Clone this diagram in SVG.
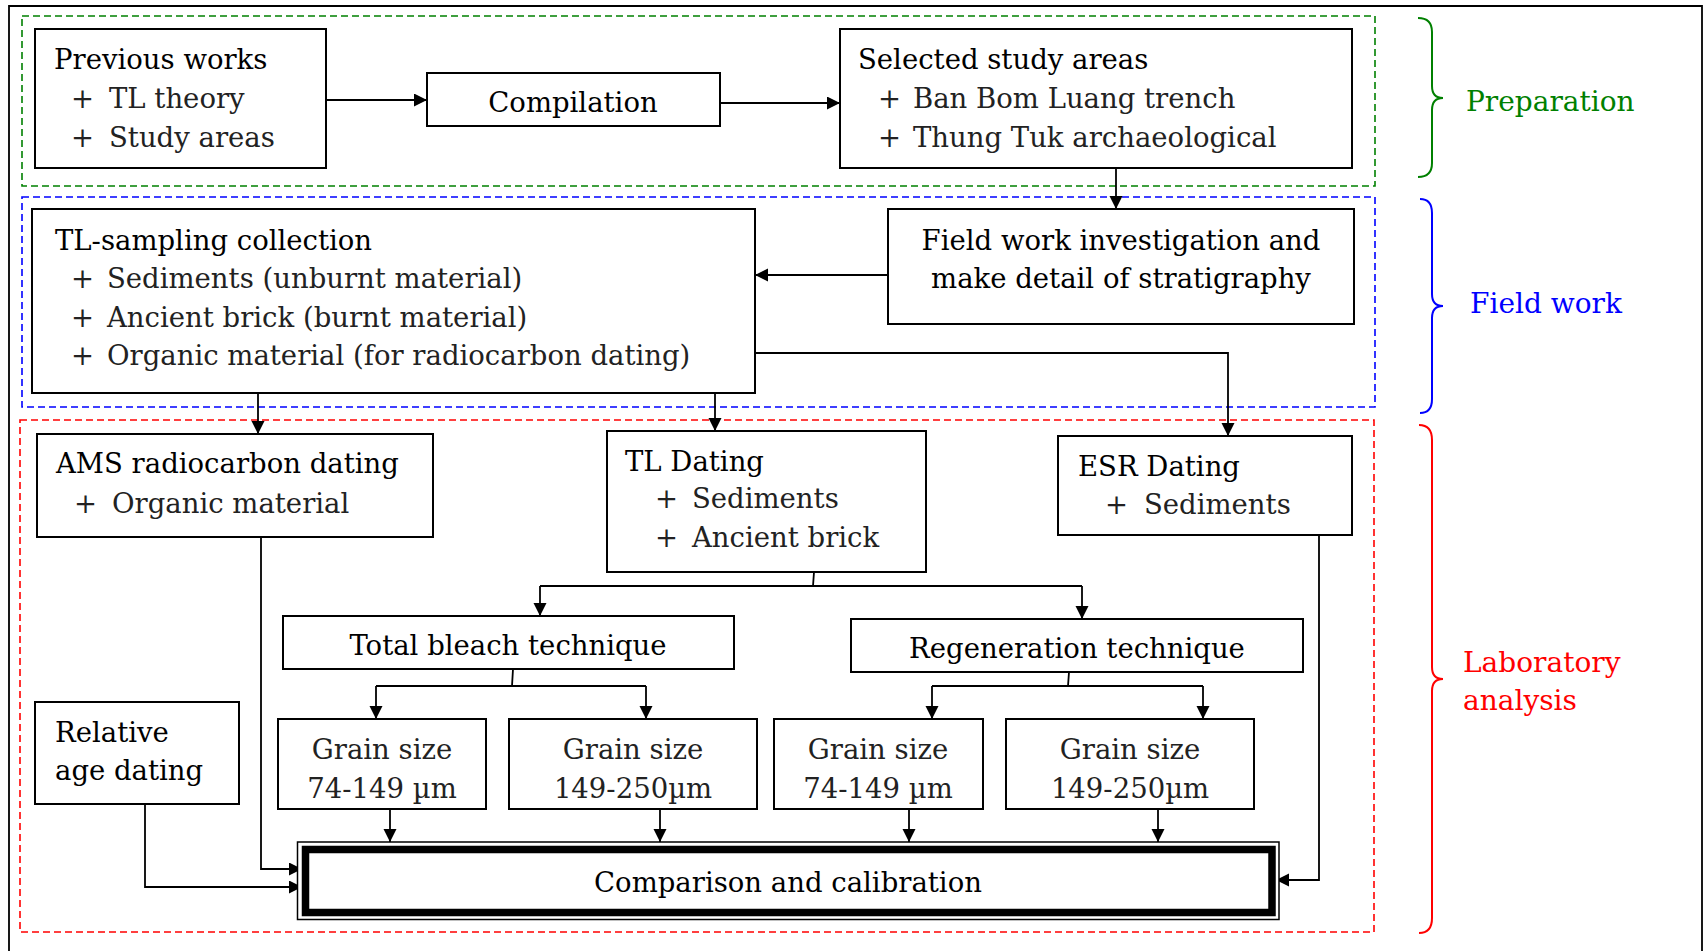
<svg xmlns="http://www.w3.org/2000/svg" width="1703" height="951" viewBox="0 0 1703 951">
<defs>
<style>
.t{font-family:"DejaVu Serif","Liberation Serif",serif;font-size:27.5px;fill:#000}
.s{fill:#222}
.c{text-anchor:middle}
.box{fill:#fff;stroke:#000;stroke-width:2}
.cn{fill:none;stroke:#000;stroke-width:1.8}
.dash{fill:none;stroke-width:1.6;stroke-dasharray:7 4}
.br{fill:none;stroke-width:2}
.lab{font-family:"DejaVu Serif","Liberation Serif",serif;font-size:28px}
</style>
<marker id="ah" markerUnits="userSpaceOnUse" markerWidth="14" markerHeight="14" refX="13" refY="6.5" orient="auto">
<path d="M0,0 L13,6.5 L0,13 z" fill="#000"/>
</marker>
</defs>
<rect width="1703" height="951" fill="#fff"/>
<g id="frame">
<path d="M9,951 V6 H1702 V951" fill="none" stroke="#000" stroke-width="1.8"/>
</g>
<g id="regions">
<rect class="dash" x="22" y="16" width="1353" height="170" stroke="#008000"/>
<rect class="dash" x="22" y="197" width="1353" height="210" stroke="#0000ff"/>
<rect class="dash" x="20" y="420" width="1354" height="512" stroke="#ff0000"/>
</g>
<g id="connectors">
<path class="cn" d="M326,100 H427" marker-end="url(#ah)"/>
<path class="cn" d="M720,103 H840" marker-end="url(#ah)"/>
<path class="cn" d="M1116,168 V209" marker-end="url(#ah)"/>
<path class="cn" d="M888,275 H755" marker-end="url(#ah)"/>
<path class="cn" d="M258,393 V434" marker-end="url(#ah)"/>
<path class="cn" d="M715,393 V431" marker-end="url(#ah)"/>
<path class="cn" d="M755,353 H1228 V436" marker-end="url(#ah)"/>
<path class="cn" d="M814,572 L813,586 M540,586 H1082"/>
<path class="cn" d="M540,586 V616" marker-end="url(#ah)"/>
<path class="cn" d="M1082,586 V619" marker-end="url(#ah)"/>
<path class="cn" d="M513,669 L512,686 M376,686 H646"/>
<path class="cn" d="M376,686 V719" marker-end="url(#ah)"/>
<path class="cn" d="M646,686 V719" marker-end="url(#ah)"/>
<path class="cn" d="M1069,672 L1068,686 M932,686 H1203"/>
<path class="cn" d="M932,686 V719" marker-end="url(#ah)"/>
<path class="cn" d="M1203,686 V719" marker-end="url(#ah)"/>
<path class="cn" d="M390,809 V842" marker-end="url(#ah)"/>
<path class="cn" d="M660,809 V842" marker-end="url(#ah)"/>
<path class="cn" d="M909,809 V842" marker-end="url(#ah)"/>
<path class="cn" d="M1158,809 V842" marker-end="url(#ah)"/>
<path class="cn" d="M261,537 V869 H302" marker-end="url(#ah)"/>
<path class="cn" d="M145,804 V887 H302" marker-end="url(#ah)"/>
<path class="cn" d="M1319,535 V880 H1276" marker-end="url(#ah)"/>
</g>
<g id="previous-works">
<rect class="box" x="35" y="29" width="291" height="139"/>
<text class="t" x="54" y="69">Previous works</text>
<text class="t s" y="108"><tspan x="71">+</tspan><tspan x="109">TL theory</tspan></text>
<text class="t s" y="147"><tspan x="71">+</tspan><tspan x="109">Study areas</tspan></text>
</g>
<g id="compilation">
<rect class="box" x="427" y="73" width="293" height="53"/>
<text class="t c" x="573" y="112">Compilation</text>
</g>
<g id="selected-study-areas">
<rect class="box" x="840" y="29" width="512" height="139"/>
<text class="t" x="858" y="69">Selected study areas</text>
<text class="t s" y="108"><tspan x="878">+</tspan><tspan x="913">Ban Bom Luang trench</tspan></text>
<text class="t s" y="147"><tspan x="878">+</tspan><tspan x="913">Thung Tuk archaeological</tspan></text>
</g>
<g id="field-work">
<rect class="box" x="888" y="209" width="466" height="115"/>
<text class="t c" x="1121" y="250">Field work investigation and</text>
<text class="t c" x="1121" y="288">make detail of stratigraphy</text>
</g>
<g id="tl-sampling">
<rect class="box" x="32" y="209" width="723" height="184"/>
<text class="t" x="55" y="250">TL-sampling collection</text>
<text class="t s" y="288"><tspan x="71">+</tspan><tspan x="107">Sediments (unburnt material)</tspan></text>
<text class="t s" y="327"><tspan x="71">+</tspan><tspan x="107">Ancient brick (burnt material)</tspan></text>
<text class="t s" y="365"><tspan x="71">+</tspan><tspan x="107">Organic material (for radiocarbon dating)</tspan></text>
</g>
<g id="ams">
<rect class="box" x="37" y="434" width="396" height="103"/>
<text class="t" x="56" y="473">AMS radiocarbon dating</text>
<text class="t s" y="513"><tspan x="74">+</tspan><tspan x="112">Organic material</tspan></text>
</g>
<g id="tl-dating">
<rect class="box" x="607" y="431" width="319" height="141"/>
<text class="t" x="625" y="471">TL Dating</text>
<text class="t s" y="508"><tspan x="655">+</tspan><tspan x="692">Sediments</tspan></text>
<text class="t s" y="547"><tspan x="655">+</tspan><tspan x="692">Ancient brick</tspan></text>
</g>
<g id="esr-dating">
<rect class="box" x="1058" y="436" width="294" height="99"/>
<text class="t" x="1078" y="476">ESR Dating</text>
<text class="t s" y="514"><tspan x="1105">+</tspan><tspan x="1144">Sediments</tspan></text>
</g>
<g id="total-bleach">
<rect class="box" x="283" y="616" width="451" height="53"/>
<text class="t c" x="508" y="655">Total bleach technique</text>
</g>
<g id="regeneration">
<rect class="box" x="851" y="619" width="452" height="53"/>
<text class="t c" x="1077" y="658">Regeneration technique</text>
</g>
<g id="relative-age">
<rect class="box" x="35" y="702" width="204" height="102"/>
<text class="t" x="55" y="742">Relative</text>
<text class="t" x="55" y="780">age dating</text>
</g>
<g id="grain-1">
<rect class="box" x="278" y="719" width="208" height="90"/>
<text class="t s c" x="382" y="759">Grain size</text>
<text class="t s c" x="382" y="798">74-149 µm</text>
</g>
<g id="grain-2">
<rect class="box" x="509" y="719" width="248" height="90"/>
<text class="t s c" x="633" y="759">Grain size</text>
<text class="t s c" x="633" y="798">149-250µm</text>
</g>
<g id="grain-3">
<rect class="box" x="774" y="719" width="209" height="90"/>
<text class="t s c" x="878" y="759">Grain size</text>
<text class="t s c" x="878" y="798">74-149 µm</text>
</g>
<g id="grain-4">
<rect class="box" x="1006" y="719" width="248" height="90"/>
<text class="t s c" x="1130" y="759">Grain size</text>
<text class="t s c" x="1130" y="798">149-250µm</text>
</g>
<g id="comparison">
<rect x="297.5" y="842" width="981.5" height="77.5" fill="#fff" stroke="#000" stroke-width="1.5"/>
<rect x="305.5" y="849.5" width="966.5" height="63" fill="#fff" stroke="#000" stroke-width="7.5"/>
<text class="t c" x="788" y="892">Comparison and calibration</text>
</g>
<g id="preparation-label">
<path class="br" stroke="#008000" d="M1418,18 Q1432,18 1432,32 V86 Q1432,98 1443,98 Q1432,98 1432,110 V163 Q1432,177 1418,177"/>
<text class="lab" x="1466" y="111" fill="#008000">Preparation</text>
</g>
<g id="fieldwork-label">
<path class="br" stroke="#0000ff" d="M1420,199 Q1432,199 1432,213 V294 Q1432,306 1443,306 Q1432,306 1432,318 V399 Q1432,413 1420,413"/>
<text class="lab" x="1470" y="313" fill="#0000ff">Field work</text>
</g>
<g id="laboratory-label">
<path class="br" stroke="#ff0000" d="M1419,425 Q1432,425 1432,440 V667 Q1432,679 1443,679 Q1432,679 1432,691 V918 Q1432,933 1419,933"/>
<text class="lab" x="1463" y="672" fill="#ff0000">Laboratory</text>
<text class="lab" x="1463" y="710" fill="#ff0000">analysis</text>
</g>
</svg>
